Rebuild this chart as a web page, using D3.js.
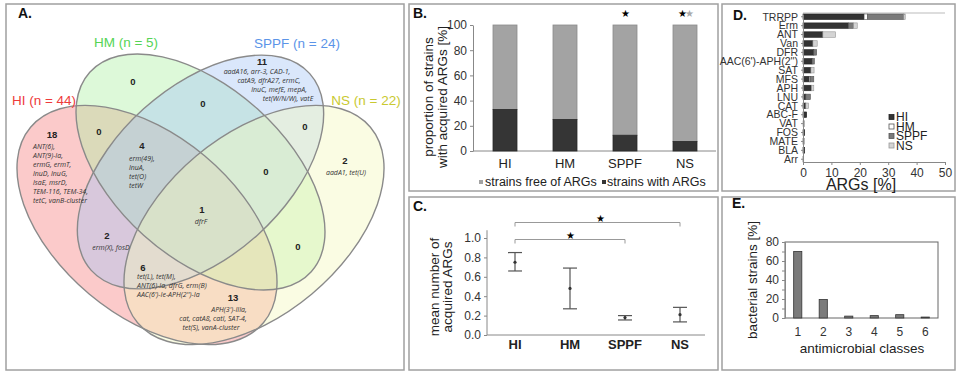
<!DOCTYPE html>
<html lang="en">
<head>
<meta charset="UTF-8" />
<title>Acquired ARGs overview</title>
<script src="https://d3js.org/d3.v7.min.js"></script>
<style>
  body { margin: 0; background: #fff; }
  svg { font-family: "Liberation Sans", Arial, sans-serif; }
  .frame { fill: none; stroke: #a0a0a0; stroke-width: 1.5; }
  .tag { font-weight: bold; font-size: 14px; fill: #111; }
  .axis path, .axis line { stroke: #888; }
  .axis text { fill: #333; font-family: "Liberation Sans", Arial, sans-serif; }
  .num { font-weight: bold; font-size: 9.5px; fill: #222; text-anchor: middle; }
  .gene { font-style: italic; font-size: 7px; fill: #333; font-family: "Open Sans", "Liberation Sans", sans-serif; }
</style>
</head>
<body>
<div id="chart"></div>
<script>
// ---------- data ----------
const groups = ["HI", "HM", "SPPF", "NS"];
const groupSizes = [44, 5, 24, 22];

// A. Venn regions
const vennRegions = ["HI", "HM", "SPPF", "NS", "HI&HM", "HM&SPPF", "SPPF&NS", "HI&HM&SPPF",
  "HM&SPPF&NS", "all", "HI&SPPF", "HM&NS", "HI&SPPF&NS", "HI&NS"];
const vennCounts = [18, 0, 11, 2, 0, 0, 0, 4, 0, 1, 2, 0, 6, 13];
const vennGenes = [
  ["ANT(6),", "ANT(9)-Ia,", "ermG, ermT,", "lnuD, lnuG,", "lsaE, msrD,", "TEM-116, TEM-34,", "tetC, vanB-cluster"],
  [],
  ["aadA16, arr-3, CAD-1,", "catA9, dfrA27, ermC,", "lnuC, mefE, mepA,", "tet(W/N/W), vatE"],
  ["aadA1, tet(U)"],
  [], [], [],
  ["erm(49),", "lnuA,", "tet(O)", "tetW"],
  [],
  ["dfrF"],
  ["erm(X), fosD"],
  [],
  ["tet(L), tet(M),", "ANT(6)-Ia, dfrG, erm(B)", "AAC(6')-Ie-APH(2'')-Ia"],
  ["APH(3')-IIIa,", "cat, catA8, catI, SAT-4,", "tet(S), vanA-cluster"]
];

// B. proportion of strains (%)
const withARGs = [33, 25, 12.5, 7.5];
const freeOfARGs = [67, 75, 87.5, 92.5];

// C. mean number of acquired ARGs
const meanARGs = [0.75, 0.48, 0.18, 0.21];
const upperARGs = [0.85, 0.69, 0.20, 0.285];
const lowerARGs = [0.66, 0.27, 0.155, 0.135];

// D. ARG classes (%)
const argClasses = ["TRRPP", "Erm", "ANT", "Van", "DFR", "AAC(6')-APH(2'')", "SAT", "MFS", "APH",
  "LNU", "CAT", "ABC-F", "VAT", "FOS", "MATE", "BLA", "Arr"];
const argHI   = [21.5, 16, 7, 3.5, 3.8, 3.2, 2.8, 2.2, 3, 1, 1, 1.3, 0, 0.6, 0, 0.6, 0];
const argHM   = [1.2, 0, 0, 0, 0, 0, 0, 0.4, 0, 0, 0, 0, 0, 0, 0.4, 0, 0];
const argSPPF = [12.8, 1.8, 0, 0, 1, 0.8, 0, 1.2, 0, 1.6, 0, 0, 0, 0, 0, 0, 0.25];
const argNS   = [0.5, 1.3, 4.5, 1.5, 0, 0, 1.1, 0, 0.8, 0, 1, 0, 0.6, 0, 0, 0, 0];

// E. number of antimicrobial classes
const classCounts = ["1", "2", "3", "4", "5", "6"];
const strainShare = [70, 19.5, 2, 2.5, 3.5, 1];

// ---------- layout ----------
const svg = d3.select("#chart").append("svg").attr("width", 960).attr("height", 373);

// panel frames
[[6, 4, 398, 366], [409, 4, 309, 187], [409, 197, 309, 173], [722, 4, 233, 187], [722, 197, 233, 173]]
  .forEach(f => svg.append("rect").attr("class", "frame")
    .attr("x", f[0]).attr("y", f[1]).attr("width", f[2]).attr("height", f[3]));

[["A.", 18, 18], ["B.", 413, 18], ["C.", 413, 211], ["D.", 733, 20], ["E.", 732, 208]]
  .forEach(t => svg.append("text").attr("class", "tag").attr("x", t[1]).attr("y", t[2]).text(t[0]));

// ===== A. Venn =====
const ellipses = [
  { cx: 147, cy: 225, rx: 152, ry: 90, rot: 40, fill: "#f58080", color: "#ee3b3b" },
  { cx: 200.5, cy: 172, rx: 149, ry: 85, rot: 42, fill: "#aef0a4", color: "#55d455" },
  { cx: 200.5, cy: 172, rx: 147, ry: 85, rot: -42, fill: "#a8c6f5", color: "#5b94e8" },
  { cx: 254, cy: 225, rx: 152, ry: 90, rot: -40, fill: "#f4f8bd", color: "#c9c930" }
];
const venn = svg.append("g");
venn.selectAll(".ef").data(ellipses).enter().append("ellipse")
  .attr("transform", d => `translate(${d.cx},${d.cy}) rotate(${d.rot})`)
  .attr("rx", d => d.rx).attr("ry", d => d.ry)
  .attr("fill", d => d.fill).attr("fill-opacity", 0.42);
venn.selectAll(".es").data(ellipses).enter().append("ellipse")
  .attr("transform", d => `translate(${d.cx},${d.cy}) rotate(${d.rot})`)
  .attr("rx", d => d.rx).attr("ry", d => d.ry)
  .attr("fill", "none").attr("stroke", "#8a8a8a").attr("stroke-width", 1.4);

const setLabelPos = [[44, 105], [126, 47], [297, 48], [366, 105]];
groups.forEach((g, i) => {
  svg.append("text").attr("x", setLabelPos[i][0]).attr("y", setLabelPos[i][1])
    .attr("text-anchor", "middle").style("font-size", "13.5px").attr("fill", ellipses[i].color)
    .text(`${g} (n = ${groupSizes[i]})`);
});

// label positions per region: [x of count, y of count, gene anchor, gene x list, first gene y]
const regionPos = [
  [52, 138, "start", [33], 149],
  [133, 85, "middle", [133], 0],
  [262, 65, "middle", [257, 269, 279, 288], 74],
  [345, 164, "middle", [346], 175],
  [99, 135, "middle", [99], 0],
  [203, 107, "middle", [203], 0],
  [305, 130, "middle", [305], 0],
  [142, 149, "start", [129], 161],
  [266, 175, "middle", [266], 0],
  [202, 213, "middle", [201], 224],
  [107, 239, "middle", [111], 250],
  [298, 250, "middle", [298], 0],
  [143, 271, "start", [137], 279],
  [233, 301, "middle", [229, 213, 211], 312]
];
vennRegions.forEach((r, i) => {
  const p = regionPos[i];
  venn.append("text").attr("class", "num").attr("x", p[0]).attr("y", p[1]).text(vennCounts[i]);
  vennGenes[i].forEach((gname, j) => {
    venn.append("text").attr("class", "gene")
      .attr("text-anchor", p[2])
      .attr("x", p[3][Math.min(j, p[3].length - 1)])
      .attr("y", p[4] + j * 9)
      .text(gname);
  });
});

// ===== B. stacked proportion bars =====
const xB = d3.scaleBand().domain(groups).range([475, 715]).paddingInner(0.6).paddingOuter(0.3);
const yB = d3.scaleLinear().domain([0, 100]).range([151, 25]);
const gB = svg.append("g");
gB.append("g").attr("class", "axis").attr("transform", "translate(473,0)")
  .call(d3.axisLeft(yB).tickValues([0, 20, 40, 60, 80, 100]).tickSize(3).tickSizeOuter(0))
  .selectAll("text").style("font-size", "12px");
gB.append("line").attr("x1", 473).attr("x2", 716).attr("y1", yB(0)).attr("y2", yB(0)).attr("stroke", "#888");
gB.selectAll(".free").data(groups).enter().append("rect")
  .attr("x", d => xB(d)).attr("width", xB.bandwidth())
  .attr("y", (d, i) => yB(withARGs[i] + freeOfARGs[i])).attr("height", (d, i) => yB(withARGs[i]) - yB(withARGs[i] + freeOfARGs[i]))
  .attr("fill", "#a3a3a3").attr("stroke", "#8a8a8a").attr("stroke-width", 0.8);
gB.selectAll(".with").data(groups).enter().append("rect")
  .attr("x", d => xB(d)).attr("width", xB.bandwidth())
  .attr("y", (d, i) => yB(withARGs[i])).attr("height", (d, i) => yB(0) - yB(withARGs[i]))
  .attr("fill", "#353535").attr("stroke", "#2a2a2a").attr("stroke-width", 0.8);
gB.selectAll(".xl").data(groups).enter().append("text")
  .attr("x", d => xB(d) + xB.bandwidth() / 2).attr("y", 168)
  .attr("text-anchor", "middle").style("font-size", "13px").attr("fill", "#222").text(d => d);
gB.append("text").attr("x", xB("SPPF") + xB.bandwidth() / 2).attr("y", 17)
  .attr("text-anchor", "middle").style("font-size", "10px").text("★");
gB.append("text").attr("x", xB("NS") + xB.bandwidth() / 2 - 3).attr("y", 17)
  .attr("text-anchor", "middle").style("font-size", "10px").text("★");
gB.append("text").attr("x", xB("NS") + xB.bandwidth() / 2 + 4).attr("y", 17)
  .attr("text-anchor", "middle").style("font-size", "10px").attr("fill", "#aaa").text("★");
gB.append("rect").attr("x", 479).attr("y", 180).attr("width", 4).attr("height", 4).attr("fill", "#a3a3a3");
gB.append("text").attr("x", 485).attr("y", 186).style("font-size", "12.5px").attr("fill", "#222").text("strains free of ARGs");
gB.append("rect").attr("x", 602).attr("y", 180).attr("width", 4).attr("height", 4).attr("fill", "#353535");
gB.append("text").attr("x", 607).attr("y", 186).style("font-size", "12.5px").attr("fill", "#222").text("strains with ARGs");
[["proportion of strains", 433], ["with acquired ARGs [%]", 447]].forEach(l => {
  gB.append("text").attr("transform", `translate(${l[1]},97) rotate(-90)`)
    .attr("text-anchor", "middle").style("font-size", "13.5px").attr("fill", "#222").text(l[0]);
});

// ===== C. mean number with error bars =====
const xC = d3.scalePoint().domain(groups).range([515, 680]);
const yC = d3.scaleLinear().domain([0, 1]).range([335, 238]);
const gC = svg.append("g");
gC.append("g").attr("class", "axis").attr("transform", "translate(487,0)")
  .call(d3.axisLeft(yC).tickValues([0, 0.2, 0.4, 0.6, 0.8, 1]).tickFormat(d3.format(".1f")).tickSize(3).tickSizeOuter(0))
  .selectAll("text").style("font-size", "12px");
gC.select(".domain").attr("d", `M0,${yC(0)}V${yC(1.08)}`);
gC.append("line").attr("x1", 487).attr("x2", 705).attr("y1", yC(0)).attr("y2", yC(0)).attr("stroke", "#888");
groups.forEach((g, i) => {
  const x = xC(g);
  gC.append("line").attr("x1", x).attr("x2", x).attr("y1", yC(upperARGs[i])).attr("y2", yC(lowerARGs[i])).attr("stroke", "#555").attr("stroke-width", 1.2);
  [upperARGs[i], lowerARGs[i]].forEach(v => gC.append("line")
    .attr("x1", x - 7).attr("x2", x + 7).attr("y1", yC(v)).attr("y2", yC(v)).attr("stroke", "#555").attr("stroke-width", 1.2));
  gC.append("circle").attr("cx", x).attr("cy", yC(meanARGs[i])).attr("r", 1.6).attr("fill", "#333");
});
gC.selectAll(".xl").data(groups).enter().append("text")
  .attr("x", d => xC(d)).attr("y", 349).attr("text-anchor", "middle")
  .style("font-size", "13px").style("font-weight", "bold").attr("fill", "#222").text(d => d);
// significance brackets
[["NS", 222.5, 600], ["SPPF", 239.5, 570]].forEach(b => {
  const x1 = xC("HI"), x2 = xC(b[0]);
  gC.append("path").attr("d", `M${x1},${b[1] + 4}V${b[1]}H${x2}V${b[1] + 4}`)
    .attr("fill", "none").attr("stroke", "#999").attr("stroke-width", 1);
  gC.append("text").attr("x", b[2]).attr("y", b[1] - 1).attr("text-anchor", "middle").style("font-size", "10px").text("★");
});
[["mean number of", 439], ["acquired ARGs", 452]].forEach(l => {
  gC.append("text").attr("transform", `translate(${l[1]},287) rotate(-90)`)
    .attr("text-anchor", "middle").style("font-size", "13.5px").attr("fill", "#222").text(l[0]);
});

// ===== D. horizontal stacked bars =====
const seriesD = [
  { key: "HI", vals: argHI, fill: "#333333", stroke: "#222" },
  { key: "HM", vals: argHM, fill: "#ffffff", stroke: "#555" },
  { key: "SPPF", vals: argSPPF, fill: "#7a7a7a", stroke: "#555" },
  { key: "NS", vals: argNS, fill: "#d4d4d4", stroke: "#999" }
];
const tableD = argClasses.map((c, i) => {
  const row = { cls: c };
  seriesD.forEach(s => row[s.key] = s.vals[i]);
  return row;
});
const stackD = d3.stack().keys(seriesD.map(s => s.key))(tableD);
const xD = d3.scaleLinear().domain([0, 50]).range([803, 945]);
const yD = d3.scaleBand().domain(argClasses).range([14, 162]).paddingInner(0.38);
const gD = svg.append("g");
gD.append("line").attr("x1", 803).attr("x2", 945).attr("y1", 13).attr("y2", 13).attr("stroke", "#bbb");
stackD.forEach((layer, k) => {
  gD.selectAll(".l" + k).data(layer).enter().append("rect")
    .attr("x", d => xD(d[0])).attr("width", d => xD(d[1]) - xD(d[0]))
    .attr("y", d => yD(d.data.cls)).attr("height", yD.bandwidth())
    .attr("fill", seriesD[k].fill).attr("stroke", seriesD[k].stroke).attr("stroke-width", 0.6)
    .style("display", d => d[1] - d[0] > 0 ? null : "none");
});
gD.append("g").attr("class", "axis").attr("transform", "translate(803,0)")
  .call(d3.axisLeft(yD).tickSize(2).tickSizeOuter(0))
  .selectAll("text").style("font-size", "10.5px").attr("dy", "0.36em");
gD.append("g").attr("class", "axis").attr("transform", "translate(0,162)")
  .call(d3.axisBottom(xD).tickValues([0, 10, 20, 30, 40, 50]).tickSize(3).tickSizeOuter(0))
  .selectAll("text").style("font-size", "12px");
gD.append("text").attr("x", 861).attr("y", 190).attr("text-anchor", "middle")
  .style("font-size", "16px").attr("fill", "#222").text("ARGs [%]");
seriesD.forEach((s, i) => {
  const ly = 117 + i * 9.5;
  gD.append("rect").attr("x", 889).attr("y", ly - 2.5).attr("width", 5).attr("height", 5)
    .attr("fill", s.fill).attr("stroke", s.stroke).attr("stroke-width", 0.8);
  gD.append("text").attr("x", 896).attr("y", ly + 4.3).style("font-size", "12px").attr("fill", "#222").text(s.key);
});

// ===== E. antimicrobial classes =====
const xE = d3.scaleBand().domain(classCounts).range([785, 938]).paddingInner(0.68).paddingOuter(0.34);
const yE = d3.scaleLinear().domain([0, 80]).range([318, 242]);
const gE = svg.append("g");
gE.append("rect").attr("x", 785).attr("y", 242).attr("width", 153).attr("height", 76)
  .attr("fill", "none").attr("stroke", "#666").attr("stroke-width", 1);
gE.append("g").attr("class", "axis").attr("transform", "translate(785,0)")
  .call(d3.axisLeft(yE).tickValues(d3.range(0, 81, 10)).tickFormat(d => d % 20 === 0 ? d : "").tickSize(3).tickSizeOuter(0))
  .selectAll("text").style("font-size", "12px");
gE.selectAll(".bar").data(classCounts).enter().append("rect")
  .attr("x", d => xE(d)).attr("width", xE.bandwidth())
  .attr("y", (d, i) => yE(strainShare[i])).attr("height", (d, i) => yE(0) - yE(strainShare[i]))
  .attr("fill", "#7b7b7b").attr("stroke", "#333").attr("stroke-width", 0.8);
gE.selectAll(".xl").data(classCounts).enter().append("text")
  .attr("x", d => xE(d) + xE.bandwidth() / 2).attr("y", 336).attr("text-anchor", "middle")
  .style("font-size", "12px").attr("fill", "#333").text(d => d);
gE.append("text").attr("x", 862).attr("y", 353).attr("text-anchor", "middle")
  .style("font-size", "13.5px").attr("fill", "#222").text("antimicrobial classes");
gE.append("text").attr("transform", "translate(757,280) rotate(-90)").attr("text-anchor", "middle")
  .style("font-size", "13.5px").attr("fill", "#222").text("bacterial strains [%]");
</script>
</body>
</html>
